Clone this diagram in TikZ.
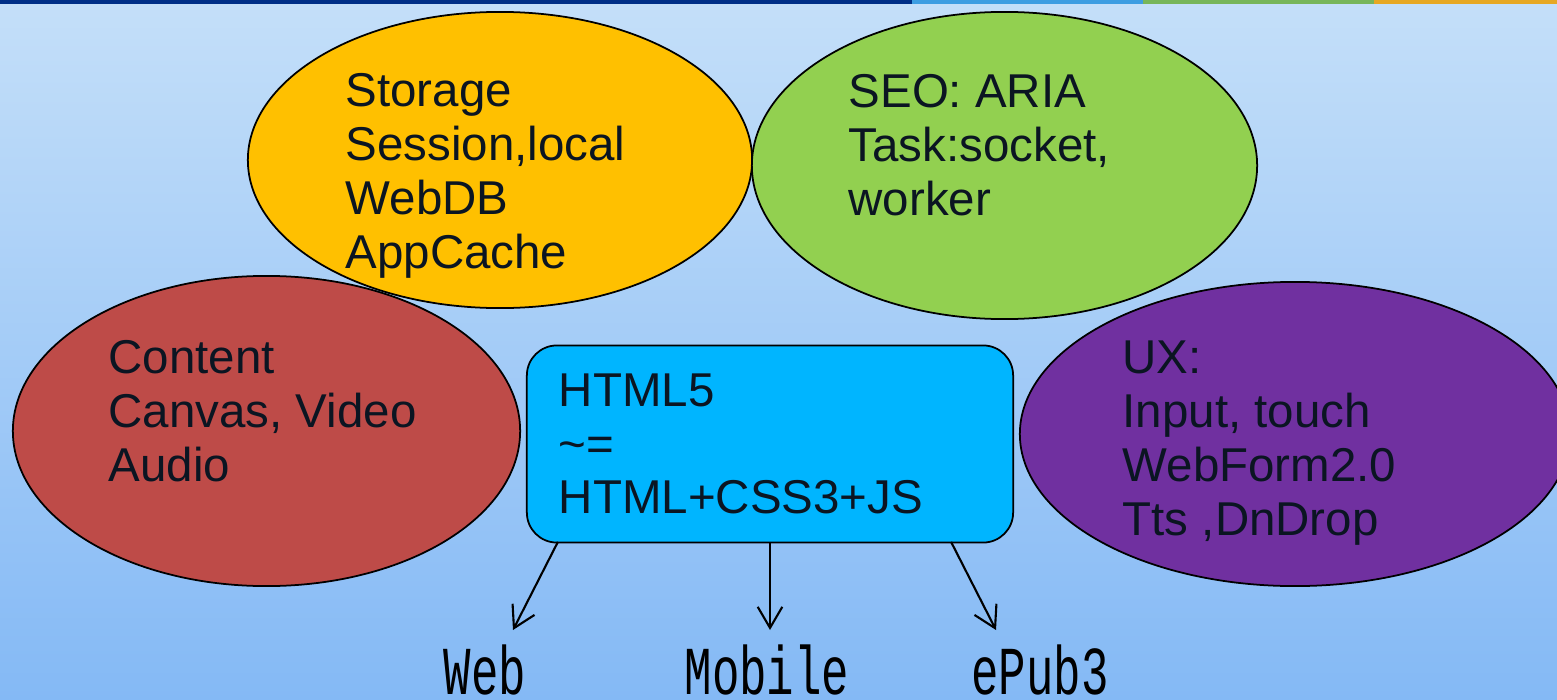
\documentclass[tikz,border=0pt]{standalone}
\usepackage{fontspec}
\setmainfont{Liberation Sans}
\newfontfamily\webmono{Liberation Mono}
\usetikzlibrary{shapes.geometric,arrows.meta,positioning}
\definecolor{bgtop}{HTML}{C4DFF9}
\definecolor{bgbot}{HTML}{84B9F5}
\definecolor{bardark}{HTML}{002F87}
\definecolor{barblue}{HTML}{3D9EE2}
\definecolor{bargreen}{HTML}{77B65A}
\definecolor{barorange}{HTML}{E6A823}
\definecolor{storagec}{HTML}{FFC000}
\definecolor{seoc}{HTML}{92D050}
\definecolor{contentc}{HTML}{BE4B48}
\definecolor{uxc}{HTML}{7030A0}
\definecolor{htmlc}{HTML}{00B5FF}
\definecolor{inkc}{HTML}{0B1522}

\begin{document}
\begin{tikzpicture}[x=0.01cm, y=-0.01cm,
		bubble/.style={ellipse, draw=black, line width=0.5pt, inner sep=0pt},
		lbl/.style={anchor=base west, inner sep=0pt, align=left, text=inkc, font=\fontsize{13.5}{15.3}\selectfont},
		htmlbox/.style={draw=black, line width=0.5pt, fill=htmlc, rounded corners=0.3cm, text width=4.22cm, align=left, inner xsep=0.32cm, minimum height=1.97cm, text=inkc, font=\fontsize{13.5}{15.3}\selectfont},
		target/.style={anchor=base, inner sep=0pt, text=black, font=\webmono\fontsize{13}{15}\selectfont},
		arr/.style={-{Straight Barb[length=6pt,width=7pt]}, line width=0.6pt}]
		\useasboundingbox (0,0) rectangle (1557,700);
		\shade[top color=bgtop, bottom color=bgbot] (0,0) rectangle (1557,700);
		% top bar
		\fill[bardark] (0,0) rectangle (912,4);
		\fill[barblue] (912,0) rectangle (1143,4);
		\fill[bargreen] (1143,0) rectangle (1374,4);
		\fill[barorange] (1374,0) rectangle (1557,4);
		% bubbles
		\node[bubble, fill=contentc, minimum width=5.07cm, minimum height=3.10cm] (content) at (266.5,431) {};
		\node[bubble, fill=uxc, minimum width=5.5cm, minimum height=3.04cm] (ux) at (1295,434) {};
		\node[bubble, fill=storagec, minimum width=5.04cm, minimum height=2.96cm] (storage) at (500,160) {};
		\node[bubble, fill=seoc, minimum width=5.05cm, minimum height=3.07cm] (seo) at (1004.5,165.5) {};
		% texts sit on the baseline of their last line
		\node[lbl] (storagetxt) at (345,268) {Storage\\Session,local\\WebDB\\AppCache};
		\node[lbl] (seotxt) at (848,215) {SEO: ARIA\\Task:socket,\\worker};
		\node[lbl] (contenttxt) at (108,481) {Content\\Canvas, Video\\Audio};
		\node[lbl] (uxtxt) at (1122,535) {UX:\\Input, touch\\WebForm2.0\\Tts ,DnDrop};
		% centre box and outputs
		\node[htmlbox] (html) at (770,444) {HTML5\\\textasciitilde=\\HTML+CSS3+JS};
		\node[target] (web) at (485,694) {\scalebox{1}[1.5]{Web}};
		\node[target] (mobile) at (767,694) {\scalebox{1}[1.5]{Mobile}};
		\node[target] (epub) at (1040,694) {\scalebox{1}[1.5]{ePub3}};
		\coordinate (webtip) at (513,630);
		\coordinate (mobiletip) at (770,630);
		\coordinate (epubtip) at (996,630);
		\draw[arr] ([xshift=-2.12cm,yshift=0.015cm]html.south) -- (webtip);
		\draw[arr] ([yshift=0.015cm]html.south) -- (mobiletip);
		\draw[arr] ([xshift=1.81cm,yshift=0.015cm]html.south) -- (epubtip);
\end{tikzpicture}
\end{document}
